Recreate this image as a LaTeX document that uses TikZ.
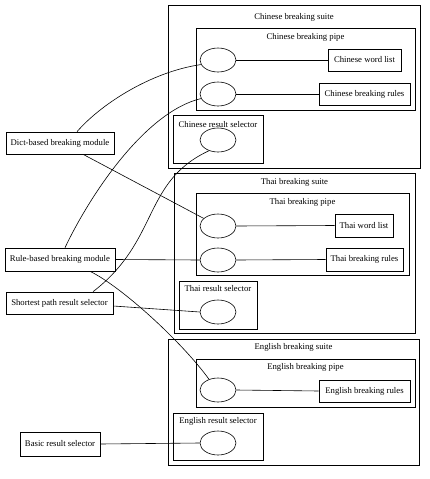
\documentclass[tikz,border=0pt]{standalone}
\usepackage{fontspec}
\setmainfont{Liberation Serif}
\usetikzlibrary{shapes.geometric}
\begin{document}
\begin{tikzpicture}[x=1pt,y=-1pt,line width=0.6pt,
  txt/.style={font=\fontsize{8.7}{10}\selectfont},
  box/.style={draw,rectangle,inner sep=0pt,txt},
  ell/.style={draw,ellipse,minimum width=36pt,minimum height=24pt,inner sep=0pt},
  lbl/.style={inner sep=0pt,txt},
  cluster/.style={draw}]
\useasboundingbox (0,0) rectangle (429,479);
% clusters
\draw[cluster] (168,5) rectangle (420,168);
\node[lbl] (tcs) at (294,17) {Chinese breaking suite};
\draw[cluster] (196,28) rectangle (415,110);
\node[lbl] (tcp) at (305.5,37) {Chinese breaking pipe};
\draw[cluster] (173,115) rectangle (263,163);
\node[lbl] (tcr) at (218,125) {Chinese result selector};

\draw[cluster] (174,173) rectangle (415,333);
\node[lbl] (tts) at (294.5,182) {Thai breaking suite};
\draw[cluster] (196,193) rectangle (409,275);
\node[lbl] (ttp) at (302.5,202) {Thai breaking pipe};
\draw[cluster] (179,281) rectangle (257,329);
\node[lbl] (ttr) at (218,289) {Thai result selector};

\draw[cluster] (168,339) rectangle (419,465);
\node[lbl] (tes) at (293.5,347) {English breaking suite};
\draw[cluster] (196,359) rectangle (415,407);
\node[lbl] (tep) at (305.5,367) {English breaking pipe};
\draw[cluster] (173,413) rectangle (263,460);
\node[lbl] (ter) at (218,421) {English result selector};

% left nodes
\node[box,minimum width=108pt,minimum height=22pt] (dict) at (60,143) {Dict-based breaking module};
\node[box,minimum width=110pt,minimum height=23pt] (rule) at (60,259.5) {Rule-based breaking module};
\node[box,minimum width=107pt,minimum height=22pt] (short) at (59.5,303) {Shortest path result selector};
\node[box,minimum width=80pt,minimum height=24pt] (basic) at (60,444) {Basic result selector};

% right boxes
\node[box,minimum width=73pt,minimum height=22pt] (cwl) at (364.5,60) {Chinese word list};
\node[box,minimum width=91pt,minimum height=22pt] (cbr) at (364.5,94) {Chinese breaking rules};
\node[box,minimum width=58pt,minimum height=23pt] (twl) at (364,225.5) {Thai word list};
\node[box,minimum width=77pt,minimum height=23pt] (tbr) at (364.5,259.5) {Thai breaking rules};
\node[box,minimum width=91pt,minimum height=22pt] (ebr) at (364.5,391) {English breaking rules};

% ellipses
\node[ell] (ce1) at (218,60) {};
\node[ell] (ce2) at (218,94) {};
\node[ell] (cs) at (218,140) {};
\node[ell] (te1) at (218,226) {};
\node[ell] (te2) at (218,260) {};
\node[ell] (ts) at (218,312) {};
\node[ell] (ee1) at (218,390) {};
\node[ell] (es) at (218,443) {};

% pipe edges
\draw (ce1.east) -- (cwl.west);
\draw (ce2.east) -- (cbr.west);
\draw (te1.east) -- (twl.west);
\draw (te2.east) -- (tbr.west);
\draw (ee1.east) -- (ebr.west);

% module edges
\draw ([xshift=17pt]dict.north) .. controls (100,105) and (150,72) .. (ce1.195);
\draw ([xshift=5pt]rule.north) .. controls (90,195) and (145,112) .. (ce2.195);
\draw ([xshift=23pt]dict.south) -- (te1);
\draw (rule.east) -- (te2.west);
\draw ([xshift=33.5pt]short.north) .. controls (160,240) and (142,182) .. (cs.230);
\draw ([yshift=-3pt]short.east) -- (ts.west);
\draw ([xshift=30pt]rule.south) .. controls (122,287) and (182,342) .. (ee1.130);
\draw (basic.east) -- (es.west);
\end{tikzpicture}
\end{document}
